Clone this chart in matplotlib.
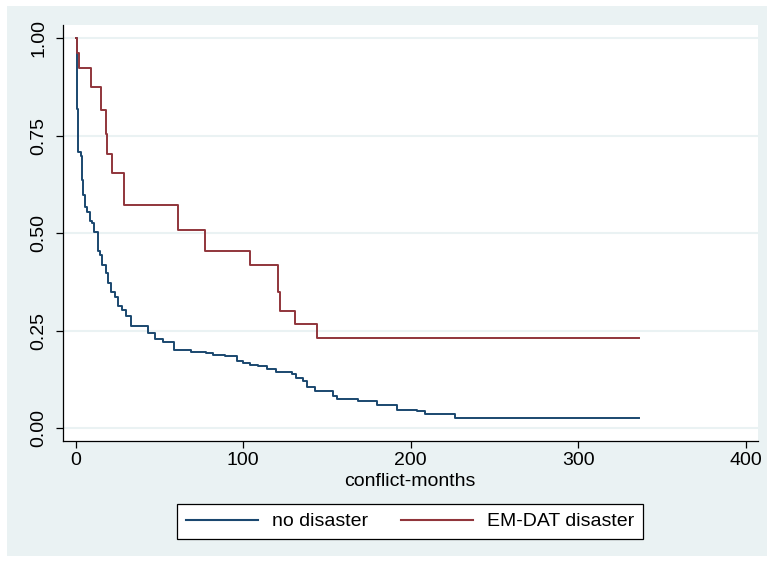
import matplotlib
matplotlib.use("Agg")
import matplotlib.pyplot as plt
from matplotlib.patches import Rectangle

plt.rcParams['font.family'] = ['Liberation Sans', 'DejaVu Sans']

# Kaplan-Meier step data (time in conflict-months, survival after step)
blue_t = [0, 1, 1.7, 3.3, 4, 4.7, 5.9, 7, 8.7, 9.7, 11.2, 13.2, 14.8, 16, 18, 19.6,
          21.2, 23.6, 25.2, 27.6, 30, 33, 43, 47.5, 52, 58.8, 68.8, 78, 82.3, 89.3,
          96.2, 100.2, 104, 109, 114, 119.7, 129, 131.6, 136, 138, 143, 153.5, 156.3,
          168.8, 179.8, 191.8, 203.7, 208.7, 226.6, 336]
blue_s = [1.0, 0.818, 0.709, 0.697, 0.637, 0.598, 0.568, 0.553, 0.530, 0.526, 0.502,
          0.455, 0.444, 0.419, 0.397, 0.372, 0.350, 0.337, 0.314, 0.303, 0.286, 0.262,
          0.244, 0.228, 0.220, 0.201, 0.196, 0.192, 0.188, 0.184, 0.173, 0.167, 0.162,
          0.158, 0.152, 0.144, 0.139, 0.128, 0.120, 0.105, 0.096, 0.083, 0.075, 0.070,
          0.060, 0.047, 0.044, 0.037, 0.026, 0.026]

red_t = [0, 1, 2, 9.3, 15, 18, 19, 22, 29, 61, 77, 104, 121, 122, 131, 144, 336]
red_s = [1.0, 0.962, 0.923, 0.875, 0.817, 0.754, 0.704, 0.653, 0.573, 0.508, 0.453,
         0.418, 0.348, 0.299, 0.268, 0.230, 0.230]

labels = ["no disaster", "EM-DAT disaster"]
x_ticks = [0, 100, 200, 300, 400]
y_ticks = [0.0, 0.25, 0.5, 0.75, 1.0]
y_ticklabels = ["0.00", "0.25", "0.50", "0.75", "1.00"]

BG = "#EAF2F3"
BLUE = "#1A476F"
RED = "#90353B"

W, H = 767, 563
fig = plt.figure(figsize=(W / 100, H / 100), dpi=100, facecolor="white")
bg = Rectangle((7 / W, 1 - 556 / H), (767 - 7) / W, (556 - 6) / H,
               transform=fig.transFigure, facecolor=BG, edgecolor="none", zorder=-10)
fig.patches.append(bg)

left, right, top, bottom = 63, 757.5, 25, 441
ax = fig.add_axes([left / W, 1 - bottom / H, (right - left) / W, (bottom - top) / H])
ax.set_zorder(1)
ax.set_facecolor("white")

l1, = ax.step(blue_t, blue_s, where="post", color=BLUE, lw=1.4, label=labels[0], zorder=3)
l2, = ax.step(red_t, red_s, where="post", color=RED, lw=1.4, label=labels[1], zorder=3)

ax.set_xlim(-7.5, 407)
ax.set_ylim(-0.0335, 1.034)
ax.set_xticks(x_ticks)
ax.set_yticks(y_ticks)
ax.set_yticklabels(y_ticklabels, rotation=90, va="center")
ax.yaxis.grid(True, color=BG, lw=1.5, zorder=0)
ax.set_axisbelow(True)
for s in ["top", "right"]:
    ax.spines[s].set_visible(False)
for s in ["left", "bottom"]:
    ax.spines[s].set_color("black")
    ax.spines[s].set_linewidth(0.9)
ax.tick_params(axis="both", direction="out", length=5, width=0.9, labelsize=14, colors="black")
ax.tick_params(axis="y", pad=6)
ax.tick_params(axis="x", pad=3)

fig.text(410 / W, 1 - 481 / H, "conflict-months", ha="center", va="center", fontsize=14, zorder=2)

leg = fig.legend(handles=[l1, l2], labels=labels, loc="center",
                 bbox_to_anchor=(410 / W, 1 - 521.5 / H), ncol=2, fontsize=14,
                 frameon=True, fancybox=False, handlelength=3.7, handletextpad=0.7,
                 columnspacing=1.7, borderpad=0.45)
leg.set_zorder(2)
leg.get_frame().set_edgecolor("black")
leg.get_frame().set_linewidth(0.9)
leg.get_frame().set_facecolor("white")
leg.get_frame().set_alpha(1)
for h in leg.legend_handles:
    h.set_linewidth(1.5)

fig.savefig("out.png", dpi=100, facecolor="white")
